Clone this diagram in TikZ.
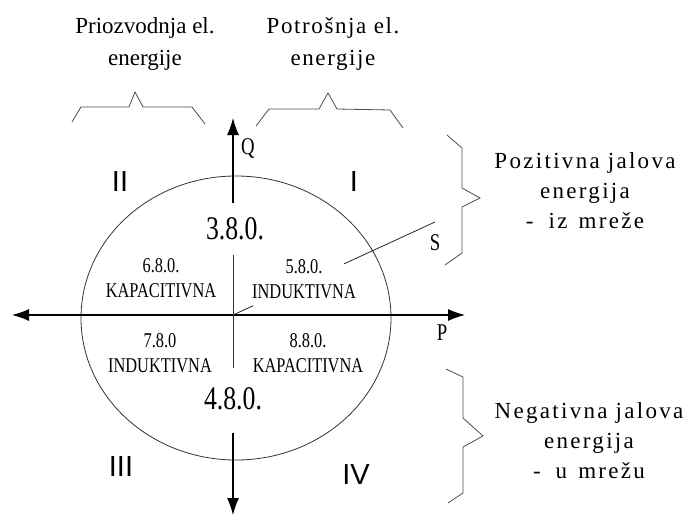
\documentclass[tikz,border=0pt]{standalone}
\usepackage{fontspec}
\setmainfont{Liberation Serif}
\setsansfont{Liberation Sans}
\newfontfamily\narrowserif[FakeStretch=0.78]{Liberation Serif}
\newfontfamily\widerserif[LetterSpace=10]{Liberation Serif}
\newfontfamily\slightserif[LetterSpace=7]{Liberation Serif}
\usetikzlibrary{arrows.meta,calc}

\begin{document}
\begin{tikzpicture}[x=1pt, y=-1pt,
        axis/.style = {line width=1.1pt, -{Latex[length=17pt,width=12pt]}},
        plain axis/.style = {line width=0.9pt, black!80},
        brace/.style = {draw=black!70, line width=0.8pt},
        quadrant/.style = {font=\sffamily\fontsize{29}{29}\selectfont},
        code/.style = {font=\narrowserif\fontsize{21}{25}\selectfont, align=center, inner sep=0pt},
        bigcode/.style = {font=\narrowserif\fontsize{33}{33}\selectfont, inner sep=0pt},
        letter/.style = {font=\narrowserif\fontsize{24}{24}\selectfont, inner sep=0pt},
        note/.style = {align=center, inner sep=0pt}]
    \useasboundingbox (0,0) rectangle (688,517);

    \coordinate (O) at (233,315);
    \coordinate (west) at (12,315);
    \coordinate (east) at (465,315);
    \coordinate (north) at (233,118);
    \coordinate (south) at (233,515);
    \coordinate (gap1) at (233,203);
    \coordinate (gap2) at (233,255);
    \coordinate (gap3) at (233,368);
    \coordinate (gap4) at (233,433);
    \coordinate (S) at (435,222);

    \draw [black!80, line width=0.8pt] (236,318) ellipse [x radius=155pt, y radius=142pt];

    \draw [axis] (O) -- (east);
    \draw [axis] (O) -- (west);
    \draw [axis] (gap1) -- (north);
    \draw [plain axis] (gap2) -- (gap3);
    \draw [axis] (gap4) -- (south);

    \draw [black!85, line width=0.8pt] (O) -- ($(O)!0.1!(S)$);
    \draw [black!85, line width=0.8pt] ($(O)!0.55!(S)$) -- (S);

    \node [letter] (Q) at (248,148) {Q};
    \node [letter] (P) at (442,333) {P};
    \node [letter] (Slabel) at (435,243) {S};

    \node [bigcode] (c3) at (235,229) {3.8.0.};
    \node [bigcode] (c4) at (233,399) {4.8.0.};
    \node [code] (c6) at (161,278) {6.8.0.\\KAPACITIVNA};
    \node [code] (c5) at (304,279) {5.8.0.\\INDUKTIVNA};
    \node [code] (c7) at (160,353) {7.8.0\\INDUKTIVNA};
    \node [code] (c8) at (308,353) {8.8.0.\\KAPACITIVNA};

    \node [quadrant] (qI) at (354,182) {I};
    \node [quadrant] (qII) at (120,182) {II};
    \node [quadrant] (qIII) at (121,467) {III};
    \node [quadrant] (qIV) at (356,475) {IV};

    \draw [brace] (72,122) -- (81,107) -- (129,107) -- (135,92) -- (143,107) -- (192,107) -- (205,124);
    \draw [brace] (256,126) -- (269,109) -- (319,109) -- (328,93) -- (337,109) -- (390,110) -- (403,128);
    \draw [brace] (447,135) -- (462,148) -- (462,188) -- (480,198) -- (462,207) -- (462,253) -- (445,265);
    \draw [brace] (446,369) -- (463,377) -- (463,418) -- (483,436) -- (463,447) -- (463,493) -- (448,503);

    \node [note, font=\fontsize{23}{32}\selectfont] (prod) at (145,44) {Priozvodnja el.\\energije};
    \node [note, font=\slightserif\fontsize{23}{32}\selectfont] (cons) at (333,44) {Potrošnja el.\\energije};
    \node [note, font=\widerserif\fontsize{23}{30}\selectfont] (pos) at (585,191) {Pozitivna jalova\\energija\\-\hspace{7pt} iz\hspace{3pt} mreže};
    \node [note, font=\widerserif\fontsize{23}{30}\selectfont] (neg) at (589,441) {Negativna jalova\\energija\\-\hspace{7pt} u\hspace{3pt} mrežu};
\end{tikzpicture}
\end{document}
